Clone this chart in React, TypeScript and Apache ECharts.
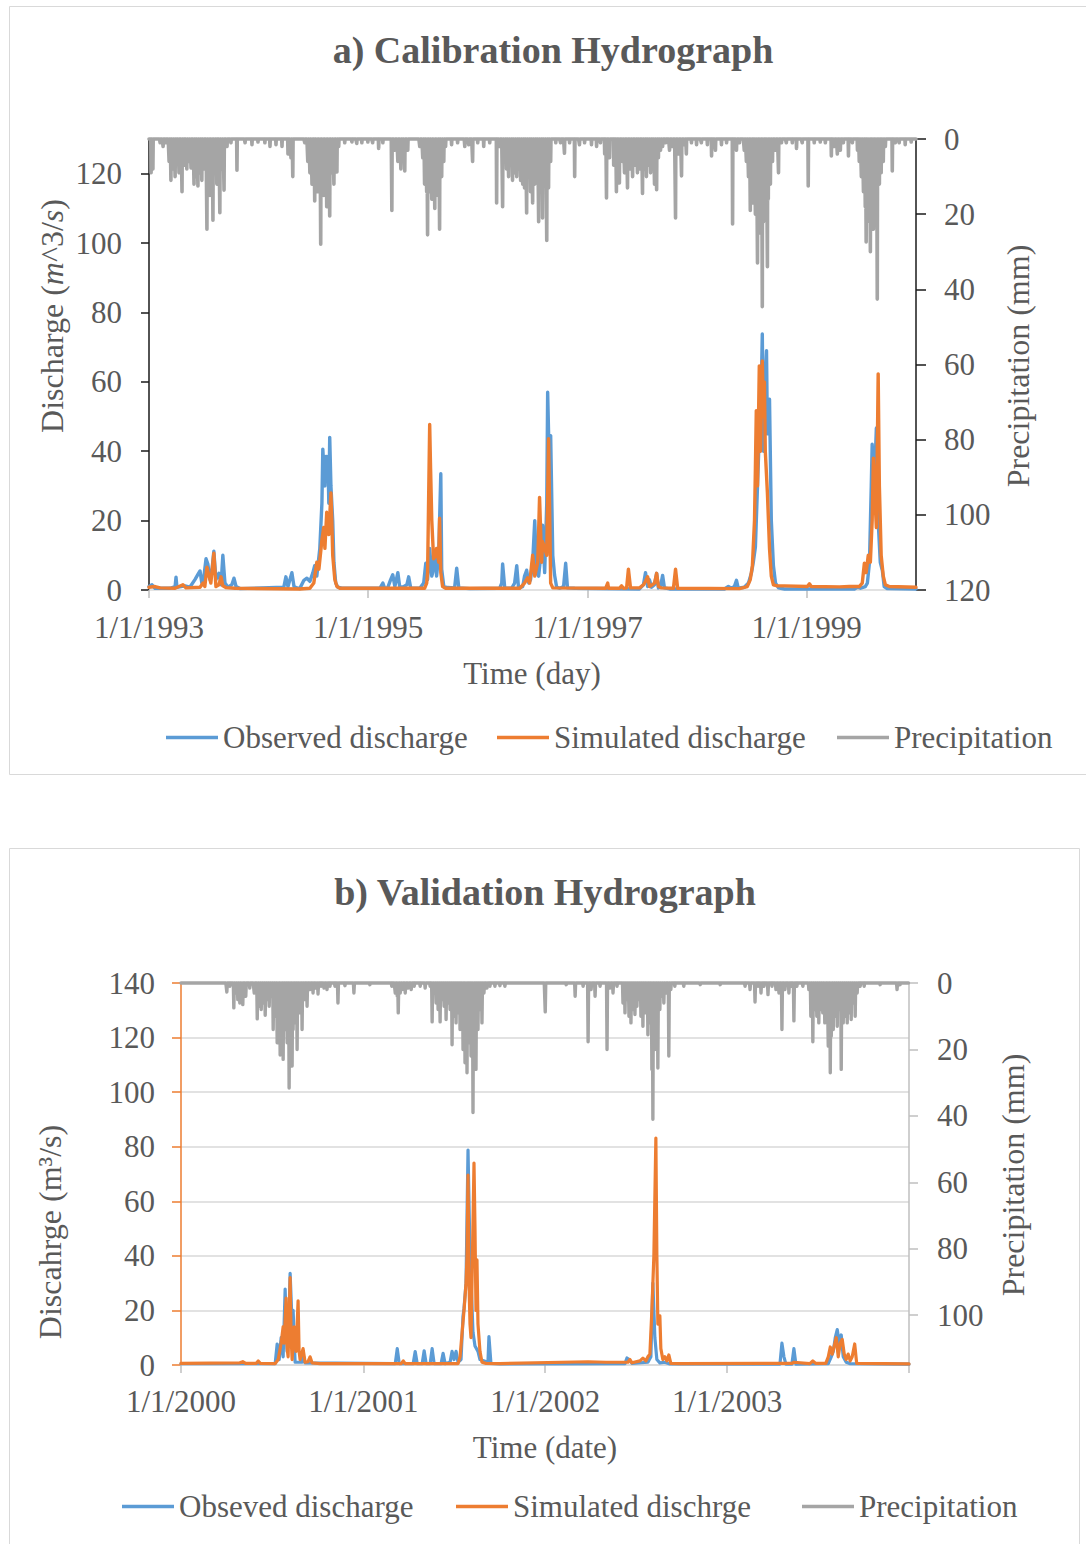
import React, { useEffect, useRef } from "react";
import * as echarts from "echarts";

// ---------- Panel a (calibration) ----------
const START_A = "1993-01-01";
const END_A = "1999-12-31";
const X_TICKS_A = ["1993-01-01", "1995-01-01", "1997-01-01", "1999-01-01"];
const Y_LEFT_TICKS_A = [0, 20, 40, 60, 80, 100, 120];
const Y_RIGHT_TICKS_A = [0, 20, 40, 60, 80, 100, 120];

// [day since START_A, discharge m3/s]
const OBS_A: [number, number][] = [
  [0, 1.0], [10, 1.5], [20, 0.5], [70, 0.5], [87, 1], [90, 3.7], [93, 0.8], [120, 1.2], [136, 0.8], [153, 3], [163, 4.5], [170, 5.5], [176, 2], [183, 4], [190, 9], [196, 7.5], [203, 3], [210, 6], [216, 11.2], [223, 3], [233, 4.8], [240, 1.5], [246, 10], [253, 2], [263, 0.8], [276, 1.5], [283, 3.4], [290, 1], [303, 0.4],
  [449, 0.8], [456, 3.8], [463, 1], [476, 5], [483, 1], [493, 0.6], [502, 0.4], [516, 2.8], [526, 3.4], [536, 2.5], [546, 5], [552, 7], [559, 4], [569, 12], [576, 25], [579, 40.6], [586, 30], [589, 38.5], [596, 38.4], [599, 25], [602, 44], [606, 30], [612, 20], [616, 8], [622, 2], [629, 0.8], [642, 0.5],
  [769, 0.5], [779, 2], [785, 0.5], [795, 0.6], [805, 3], [812, 4.4], [819, 1], [829, 5], [835, 1], [845, 0.8], [859, 1.5], [865, 3.8], [872, 0.5], [902, 0.5], [915, 2], [922, 7.7], [928, 3], [935, 12], [942, 4], [945, 5], [952, 11], [958, 4], [965, 10], [972, 33.5], [975, 6], [982, 1], [995, 0.7], [1018, 0.6], [1025, 6.3], [1032, 0.6], [1068, 0.4],
  [1168, 0.5], [1175, 2], [1178, 7.5], [1185, 0.6], [1208, 0.5], [1218, 2], [1225, 7], [1231, 0.6], [1245, 1], [1251, 4], [1258, 5.7], [1265, 2], [1271, 3], [1278, 8], [1285, 20], [1291, 5], [1298, 4], [1305, 10], [1311, 18.7], [1318, 5], [1325, 25], [1328, 57], [1335, 30], [1338, 44.5], [1345, 10], [1351, 4.3], [1358, 0.8], [1368, 0.5], [1381, 1], [1388, 7.7], [1394, 0.6], [1418, 0.5],
  [1634, 0.3], [1647, 1.5], [1654, 5], [1661, 1], [1667, 3], [1674, 0.8], [1684, 1.5], [1691, 4.8], [1697, 0.6], [1704, 1], [1711, 4.2], [1717, 0.6], [1734, 0.3],
  [1917, 0.3], [1930, 1], [1940, 0.5], [1950, 1], [1957, 2.8], [1963, 0.5], [1983, 0.8], [1997, 2], [2007, 5], [2013, 8], [2020, 12.4], [2027, 30], [2033, 45], [2040, 60], [2043, 73.8], [2047, 40], [2050, 55], [2057, 69], [2060, 45], [2067, 55], [2073, 20], [2080, 7], [2087, 2], [2097, 0.6], [2117, 0.3],
  [2350, 0.3], [2360, 0.8], [2370, 0.5], [2386, 1], [2393, 2], [2400, 8], [2406, 30], [2409, 42], [2416, 30], [2423, 46.7], [2429, 20], [2436, 8], [2443, 5.6], [2449, 1], [2459, 0.4], [2555, 0.3],
];

const SIM_A: [number, number][] = [
  [0, 0.8], [20, 1], [37, 0.6], [87, 0.5], [113, 1.5], [123, 0.6], [170, 0.8], [180, 2], [186, 1], [193, 6.6], [200, 4], [206, 2], [216, 10.6], [223, 1], [233, 1.5], [240, 3.8], [246, 1.2], [256, 0.7], [286, 0.5],
  [502, 0.3], [536, 0.5], [549, 2], [559, 8], [566, 6], [576, 14.4], [582, 18], [586, 12], [592, 22.4], [599, 16], [606, 28], [609, 20], [612, 10], [619, 3], [626, 1], [636, 0.5],
  [918, 0.5], [925, 2], [928, 5], [935, 47.7], [938, 35], [942, 20], [948, 9], [955, 10], [958, 12], [965, 8], [968, 20.7], [972, 5], [978, 1], [988, 0.5],
  [1235, 0.5], [1251, 2], [1261, 3.5], [1268, 2], [1278, 10], [1285, 4], [1295, 8], [1301, 26.7], [1308, 8], [1311, 14], [1318, 12], [1325, 10], [1331, 43.6], [1335, 20], [1338, 2], [1345, 0.6],
  [1521, 0.5], [1528, 2], [1531, 0.5], [1567, 0.5], [1574, 1.2], [1581, 0.5], [1591, 0.6], [1597, 6], [1604, 0.6], [1634, 0.6], [1647, 1.5], [1654, 2.5], [1661, 3.8], [1667, 1], [1677, 1.5], [1684, 2], [1691, 4.8], [1697, 1], [1707, 0.6], [1747, 0.5], [1754, 6], [1761, 0.5],
  [1967, 0.4], [1993, 1], [2003, 3], [2010, 7], [2017, 20], [2020, 35], [2023, 51.7], [2027, 30], [2033, 64.6], [2037, 40], [2043, 66], [2047, 50], [2050, 60], [2053, 40], [2060, 28], [2067, 12], [2073, 4], [2080, 1.5], [2093, 1.2], [2117, 1.2], [2193, 1], [2200, 1.8], [2206, 1], [2300, 0.9],
  [2333, 1], [2366, 1], [2376, 2], [2383, 7.7], [2389, 5], [2396, 10], [2403, 8], [2409, 20], [2413, 38], [2419, 25], [2423, 18], [2426, 40], [2429, 62.3], [2433, 30], [2439, 10], [2446, 4], [2453, 1.5], [2466, 1], [2555, 0.8],
];

// rainy days: [day since START_A, mm]; all other days are 0
const PRECIP_A: [number, number][] = [
  [7, 9], [13, 8], [37, 1], [47, 2], [57, 1], [67, 6], [73, 11], [80, 8], [87, 10], [93, 6], [100, 9], [110, 14], [116, 7], [126, 8], [133, 6], [140, 7.7], [150, 12], [156, 10], [163, 12.5], [170, 9], [176, 11], [183, 8], [193, 24], [200, 12], [203, 15], [210, 10], [213, 21.6], [220, 9], [226, 12], [236, 19.6], [243, 8], [250, 13.6], [260, 2], [273, 1], [293, 8.3],
  [320, 1], [343, 1.5], [363, 0.8], [386, 1], [403, 2], [423, 1.5], [443, 2], [463, 4], [473, 5], [479, 10],
  [519, 1], [529, 6], [536, 9], [543, 12], [546, 10], [552, 16.5], [559, 12], [562, 14], [569, 11], [572, 28], [579, 13], [582, 15], [589, 14], [592, 18], [599, 12], [602, 20.5], [609, 9], [616, 12], [619, 8], [626, 8.8], [632, 2],
  [652, 1], [676, 0.8], [692, 1.2], [709, 1], [729, 0.8], [745, 1], [765, 2.5], [779, 1], [809, 19], [819, 3], [829, 6], [839, 8], [845, 5], [852, 8.5], [862, 3],
  [902, 2], [912, 5], [918, 12], [925, 14], [928, 25.5], [935, 14], [942, 16], [948, 13], [952, 18.5], [958, 12], [962, 15], [968, 24], [975, 10], [982, 6], [988, 2],
  [1008, 1.5], [1028, 1], [1052, 2], [1065, 1.5], [1078, 6], [1095, 1], [1115, 2], [1135, 1], [1158, 17], [1168, 2], [1178, 18], [1185, 5],
  [1191, 8], [1198, 10], [1205, 7], [1211, 11], [1218, 9], [1225, 10], [1231, 8], [1238, 11], [1245, 12], [1251, 13], [1258, 19.7], [1265, 10], [1271, 14], [1278, 17], [1285, 12], [1291, 10], [1298, 22], [1305, 14], [1311, 21], [1318, 11], [1325, 27], [1331, 13], [1338, 6],
  [1355, 1], [1371, 1], [1384, 3.8], [1401, 1], [1418, 10], [1434, 1.5], [1451, 1], [1474, 1.5], [1491, 2], [1504, 1],
  [1518, 4], [1524, 15.7], [1534, 5], [1548, 7], [1557, 14], [1567, 11.7], [1577, 6], [1584, 9], [1594, 13], [1604, 8], [1611, 10], [1621, 7], [1627, 9], [1634, 8], [1644, 14.5], [1651, 8], [1657, 10], [1664, 7], [1671, 9], [1677, 6], [1684, 12], [1691, 13.5], [1697, 5], [1704, 3], [1711, 2], [1721, 1], [1734, 3], [1744, 2], [1754, 21], [1764, 4], [1774, 9.8], [1784, 1.5], [1790, 4],
  [1807, 1], [1824, 1.5], [1840, 1], [1860, 1.5], [1874, 4.5], [1887, 3], [1907, 1.5], [1924, 1], [1944, 22.6], [1957, 3], [1967, 1],
  [1983, 3], [1990, 6], [1997, 10], [2003, 19], [2007, 14], [2013, 17], [2020, 20], [2023, 15], [2027, 33], [2033, 20], [2037, 25], [2043, 44.6], [2047, 22], [2053, 18], [2060, 34], [2063, 16], [2070, 12], [2077, 6], [2087, 3], [2097, 9], [2107, 1],
  [2123, 1], [2143, 1], [2157, 2.5], [2176, 1], [2196, 12.5], [2216, 1], [2236, 0.8], [2253, 1], [2273, 4.5], [2283, 2], [2293, 4], [2303, 3], [2313, 1], [2330, 4.5], [2343, 1],
  [2360, 3], [2366, 6], [2373, 10], [2380, 14], [2386, 18], [2389, 27.4], [2396, 16], [2400, 22], [2403, 30], [2409, 18], [2413, 24], [2419, 14], [2423, 20], [2426, 42.6], [2433, 12], [2439, 9], [2446, 6], [2453, 2],
  [2476, 8.5], [2486, 1], [2499, 1], [2519, 1.5], [2539, 0.8],
];

// ---------- Panel b (validation) ----------
const START_B = "2000-01-01";
const END_B = "2004-01-01";
const X_TICKS_B = ["2000-01-01", "2001-01-01", "2002-01-01", "2003-01-01", "2004-01-01"];
const X_LABELS_B = ["2000-01-01", "2001-01-01", "2002-01-01", "2003-01-01"];
const Y_RIGHT_TICKS_B = [0, 20, 40, 60, 80, 100];

const OBS_B: [number, number][] = [
  [0, 0.5], [189, 0.5], [193, 7.7], [197, 2], [201, 10], [205, 3], [209, 27.8], [213, 5], [217, 20], [219, 33.6], [223, 15], [225, 20], [229, 1], [243, 1], [245, 4], [249, 0.8],
  [430, 0.5], [434, 6], [438, 0.5], [466, 0.5], [470, 4.9], [474, 0.5], [484, 0.5], [488, 5.2], [492, 0.5], [500, 0.5], [504, 6], [508, 0.5], [522, 0.5], [526, 4.3], [530, 0.5], [540, 1], [544, 5], [548, 2], [552, 5], [556, 1], [562, 2], [566, 18], [568, 20.8], [572, 30], [576, 78.8], [580, 40], [582, 31], [586, 12], [590, 7], [596, 5], [600, 2], [616, 1], [618, 10.4], [622, 0.6], [640, 0.4],
  [891, 0.5], [895, 2.6], [899, 2], [905, 0.6], [937, 1], [943, 3], [947, 30], [951, 10], [955, 2], [961, 0.8], [971, 1], [981, 0.4],
  [1202, 0.3], [1206, 8], [1210, 3], [1214, 0.3], [1226, 0.3], [1230, 6], [1234, 0.3], [1299, 0.5], [1305, 3], [1309, 5], [1313, 10], [1317, 13], [1321, 8], [1325, 11], [1329, 3], [1335, 1], [1343, 0.5], [1461, 0.3],
];

const SIM_B: [number, number][] = [
  [0, 0.6], [118, 0.8], [124, 1.2], [130, 0.6], [151, 0.6], [155, 1.5], [159, 0.6], [189, 0.5], [195, 2], [201, 8], [205, 14], [207, 8], [211, 24.5], [213, 6], [215, 3], [219, 32], [221, 10], [223, 2], [227, 14], [231, 5], [235, 23.5], [237, 5], [239, 2], [245, 6], [249, 1], [255, 1.2], [259, 3], [263, 0.8], [279, 0.5],
  [442, 0.5], [446, 1.5], [450, 0.5], [556, 0.5], [560, 3], [564, 11.6], [568, 20], [572, 30], [574, 40], [576, 69.6], [578, 30], [580, 15], [582, 10], [584, 30], [588, 74], [590, 50], [592, 20], [594, 38.5], [596, 15], [600, 5], [604, 1], [612, 0.6], [640, 0.5],
  [817, 1.2], [853, 1], [897, 1], [901, 2], [905, 0.8], [921, 1.5], [927, 2.5], [933, 1.5], [937, 3], [941, 4], [945, 20], [949, 40], [953, 83.2], [955, 40], [957, 15], [961, 18], [963, 6], [967, 2], [971, 3], [975, 1.5], [979, 3.7], [983, 0.6], [1001, 0.5],
  [1226, 0.6], [1230, 1], [1262, 0.5], [1268, 1.5], [1274, 0.6], [1294, 0.6], [1299, 3], [1303, 6.6], [1307, 4], [1311, 7], [1315, 10], [1319, 3], [1323, 8], [1327, 9.4], [1331, 4], [1335, 2], [1339, 4], [1343, 1.5], [1347, 3], [1352, 7.7], [1356, 0.6], [1461, 0.4],
];

const PRECIP_B: [number, number][] = [
  [92, 2.7], [98, 1], [106, 7.5], [110, 3], [114, 5], [118, 6], [122, 5], [124, 6.5], [130, 4], [138, 1.5], [147, 3], [153, 10.8], [157, 7], [161, 8], [165, 6], [169, 9.7], [173, 5], [177, 7], [181, 4], [185, 14], [189, 10], [193, 18], [195, 12], [199, 21.7], [201, 15], [205, 23], [209, 14], [213, 18], [217, 31.6], [219, 16], [223, 25], [225, 14], [229, 12], [233, 20], [237, 9], [239, 6], [243, 14], [247, 5], [253, 7], [259, 2], [265, 3], [271, 1.5], [275, 3.3], [281, 1], [287, 1.5], [293, 2], [299, 1], [309, 1], [315, 6], [329, 0.8], [347, 3], [379, 0.5],
  [423, 1], [430, 3], [434, 4], [436, 9], [440, 3], [444, 2], [450, 3], [456, 1.5], [462, 2], [468, 1], [480, 1], [490, 1.5], [500, 1], [504, 11.7], [508, 3], [512, 6], [516, 8], [520, 11.7], [524, 5], [528, 7], [532, 11], [536, 6], [540, 8], [544, 18.6], [548, 10], [552, 12], [556, 9], [560, 14], [564, 11], [566, 20], [570, 24], [572, 15], [574, 27], [578, 18], [582, 22], [586, 39], [588, 18], [592, 26], [596, 14], [600, 8], [604, 12], [608, 3], [614, 1.5], [620, 1], [630, 1], [640, 0.8], [650, 1], [731, 8.7],
  [773, 0.5], [791, 4], [807, 1], [817, 17.7], [823, 2], [831, 4], [841, 1], [855, 20], [861, 1.5], [867, 3], [875, 1], [887, 6], [891, 9], [895, 5], [899, 10], [903, 12], [907, 8], [911, 9.5], [915, 7], [919, 5], [923, 10], [927, 13], [931, 9], [935, 8], [937, 15.6], [941, 12], [945, 26], [947, 41], [951, 20], [953, 10], [957, 25.6], [961, 8], [965, 4], [969, 6], [973, 3], [979, 22], [983, 2], [991, 1], [1009, 1], [1042, 0.5], [1082, 0.5],
  [1132, 1], [1142, 2], [1152, 5.7], [1158, 1], [1164, 3], [1170, 1], [1178, 3.5], [1186, 1], [1194, 2], [1200, 3], [1206, 14], [1212, 2], [1220, 3], [1226, 1], [1230, 11.4], [1236, 1], [1248, 1], [1260, 2], [1264, 10], [1268, 17.7], [1272, 8], [1276, 10], [1280, 12], [1284, 8], [1288, 9], [1292, 12], [1294, 7], [1299, 19], [1303, 27], [1305, 16], [1309, 14], [1313, 10], [1317, 13], [1321, 8], [1325, 26], [1329, 12], [1333, 10], [1337, 12], [1341, 9], [1345, 11], [1349, 6], [1353, 10], [1357, 3], [1363, 1], [1371, 1], [1403, 0.5], [1437, 2], [1443, 0.5],
];

// ---------- helpers ----------
const FONT = "'Liberation Serif', 'Times New Roman', serif";
const TXT = "#595959";
const BLUE = "#5B9BD5";
const ORANGE = "#ED7D31";
const GRAY = "#A5A5A5";
const DAY = 86400000;

const dayOf = (start: string, date: string) =>
  Math.round((Date.parse(date) - Date.parse(start)) / DAY);

const dateFmt = (start: string) => (v: number) => {
  const d = new Date(Date.parse(start) + Math.round(v) * DAY);
  return `${d.getUTCMonth() + 1}/${d.getUTCDate()}/${d.getUTCFullYear()}`;
};

const dailyRain = (spikes: [number, number][], nDays: number) => {
  const map = new Map<number, number>();
  spikes.forEach(([d, v]) => map.set(d, v));
  const out: [number, number][] = [];
  for (let i = 0; i <= nDays; i++) out.push([i, map.get(i) ?? 0]);
  return out;
};

const labelStyle = { fontFamily: FONT, fontSize: 31, color: TXT };

function buildOption() {
  const nA = dayOf(START_A, END_A);
  const nB = dayOf(START_B, END_B);
  const xTicksA = X_TICKS_A.map((d) => dayOf(START_A, d));
  const xTicksB = X_TICKS_B.map((d) => dayOf(START_B, d));
  const xLabelsB = X_LABELS_B.map((d) => dayOf(START_B, d));

  const lineSeries = (name: string, data: any, color: string, xi: number, yi: number, z: number, w: number) => ({
    name,
    type: "line",
    xAxisIndex: xi,
    yAxisIndex: yi,
    data,
    symbol: "none",
    showSymbol: false,
    clip: false,
    silent: true,
    z,
    itemStyle: { color },
    lineStyle: { color, width: w, join: "round", cap: "round" },
  });

  const legend = (name: string, left: number, top: number) => ({
    data: [{ name, icon: "rect" }],
    left,
    top,
    orient: "horizontal",
    padding: 0,
    itemWidth: 52,
    itemHeight: 3.5,
    selectedMode: false,
    textStyle: { fontFamily: FONT, fontSize: 31, color: TXT },
  });

  const text = (x: number, y: number, t: string, size: number, bold = false, rotation = 0) => ({
    type: "text",
    x,
    y,
    rotation,
    silent: true,
    style: {
      text: t,
      fontFamily: FONT,
      fontSize: size,
      fontWeight: bold ? "bold" : "normal",
      fill: TXT,
      align: "center",
      verticalAlign: "middle",
    },
  });

  return {
    animation: false,
    backgroundColor: "#ffffff",
    textStyle: { fontFamily: FONT },
    grid: [
      { left: 149, top: 139, width: 767, height: 451 },
      { left: 181, top: 983, width: 728, height: 382 },
    ],
    xAxis: [
      {
        gridIndex: 0,
        type: "value",
        min: 0,
        max: nA,
        axisLine: { show: true, onZero: false, lineStyle: { color: "#D9D9D9", width: 1.5 } },
        axisTick: { show: true, length: 8, customValues: xTicksA, lineStyle: { color: "#BFBFBF", width: 1.5 } },
        axisLabel: { ...labelStyle, margin: 22, customValues: xTicksA, formatter: dateFmt(START_A) },
        splitLine: { show: false },
      },
      {
        gridIndex: 1,
        type: "value",
        min: 0,
        max: nB,
        axisLine: { show: true, onZero: false, lineStyle: { color: "#D9D9D9", width: 1.5 } },
        axisTick: { show: true, length: 8, customValues: xTicksB, lineStyle: { color: "#BFBFBF", width: 1.5 } },
        axisLabel: { ...labelStyle, margin: 21, customValues: xLabelsB, formatter: dateFmt(START_B) },
        splitLine: { show: false },
      },
    ],
    yAxis: [
      {
        gridIndex: 0,
        type: "value",
        position: "left",
        min: 0,
        max: 130,
        axisLine: { show: true, onZero: false, lineStyle: { color: "#1a1a1a", width: 1.5 } },
        axisTick: { show: true, length: 8, customValues: Y_LEFT_TICKS_A, lineStyle: { color: "#1a1a1a", width: 1.5 } },
        axisLabel: { ...labelStyle, margin: 27, customValues: Y_LEFT_TICKS_A },
        splitLine: { show: false },
      },
      {
        gridIndex: 0,
        type: "value",
        position: "right",
        inverse: true,
        min: 0,
        max: 120,
        axisLine: { show: true, onZero: false, lineStyle: { color: "#1a1a1a", width: 1.5 } },
        axisTick: { show: true, length: 10, customValues: Y_RIGHT_TICKS_A, lineStyle: { color: "#1a1a1a", width: 1.5 } },
        axisLabel: { ...labelStyle, margin: 28, customValues: Y_RIGHT_TICKS_A },
        splitLine: { show: false },
      },
      {
        gridIndex: 1,
        type: "value",
        position: "left",
        min: 0,
        max: 140,
        interval: 20,
        axisLine: { show: true, onZero: false, lineStyle: { color: ORANGE, width: 1.5 } },
        axisTick: { show: true, length: 9, lineStyle: { color: ORANGE, width: 1.5 } },
        axisLabel: { ...labelStyle, margin: 26 },
        splitLine: { show: true, lineStyle: { color: "#D9D9D9", width: 1.5 } },
      },
      {
        gridIndex: 1,
        type: "value",
        position: "right",
        inverse: true,
        min: 0,
        max: 115,
        axisLine: { show: true, onZero: false, lineStyle: { color: "#BFBFBF", width: 1.5 } },
        axisTick: { show: true, length: 9, customValues: Y_RIGHT_TICKS_B, lineStyle: { color: "#BFBFBF", width: 1.5 } },
        axisLabel: { ...labelStyle, margin: 28, customValues: Y_RIGHT_TICKS_B },
        splitLine: { show: false },
      },
    ],
    legend: [
      legend("Observed discharge", 166, 722),
      legend("Simulated discharge", 497, 722),
      legend("Precipitation", 837, 722),
      legend("Obseved discharge", 122, 1491),
      legend("Simulated dischrge", 456, 1491),
      legend("Precipitation", 802, 1491),
    ],
    graphic: {
      elements: [
        {
          type: "rect",
          silent: true,
          shape: { x: 9.5, y: 6.5, width: 1090, height: 768 },
          style: { fill: "none", stroke: "#D9D9D9", lineWidth: 1 },
        },
        {
          type: "rect",
          silent: true,
          shape: { x: 9.5, y: 848.5, width: 1070, height: 720 },
          style: { fill: "none", stroke: "#D9D9D9", lineWidth: 1 },
        },
        text(553, 50, "a) Calibration Hydrograph", 38, true),
        text(545, 892, "b) Validation Hydrograph", 38, true),
        text(532, 673, "Time (day)", 31),
        text(545, 1447, "Time (date)", 31),
        {
          type: "text",
          x: 52,
          y: 316,
          rotation: Math.PI / 2,
          silent: true,
          style: {
            text: "{r|Discharge (}{i|m}{r|^3/}{i|s}{r|)}",
            align: "center",
            verticalAlign: "middle",
            rich: {
              r: { fontFamily: FONT, fontSize: 32, fill: TXT },
              i: { fontFamily: FONT, fontSize: 32, fontStyle: "italic", fill: TXT },
            },
          },
        },
        text(1018, 366, "Precipitation (mm)", 32, false, Math.PI / 2),
        text(50, 1232, "Discahrge (m\u00B3/s)", 32, false, Math.PI / 2),
        text(1013, 1175, "Precipitation (mm)", 32, false, Math.PI / 2),
      ],
    },
    series: [
      lineSeries("Precipitation", dailyRain(PRECIP_A, nA), GRAY, 0, 1, 2, 3.6),
      lineSeries("Observed discharge", OBS_A, BLUE, 0, 0, 3, 3.4),
      lineSeries("Simulated discharge", SIM_A, ORANGE, 0, 0, 4, 3.4),
      lineSeries("Precipitation", dailyRain(PRECIP_B, nB), GRAY, 1, 3, 2, 3.4),
      lineSeries("Obseved discharge", OBS_B, BLUE, 1, 2, 3, 3.2),
      lineSeries("Simulated dischrge", SIM_B, ORANGE, 1, 2, 4, 3.2),
    ],
  };
}

export default function App() {
  const ref = useRef<HTMLDivElement>(null);
  useEffect(() => {
    if (!ref.current) return;
    const chart = echarts.init(ref.current, undefined, { renderer: "svg" });
    chart.setOption(buildOption() as any);
    return () => chart.dispose();
  }, []);
  return (
    <div
      ref={ref}
      style={{ position: "absolute", left: 0, top: 0, width: 1086, height: 1544, background: "#ffffff" }}
    />
  );
}
